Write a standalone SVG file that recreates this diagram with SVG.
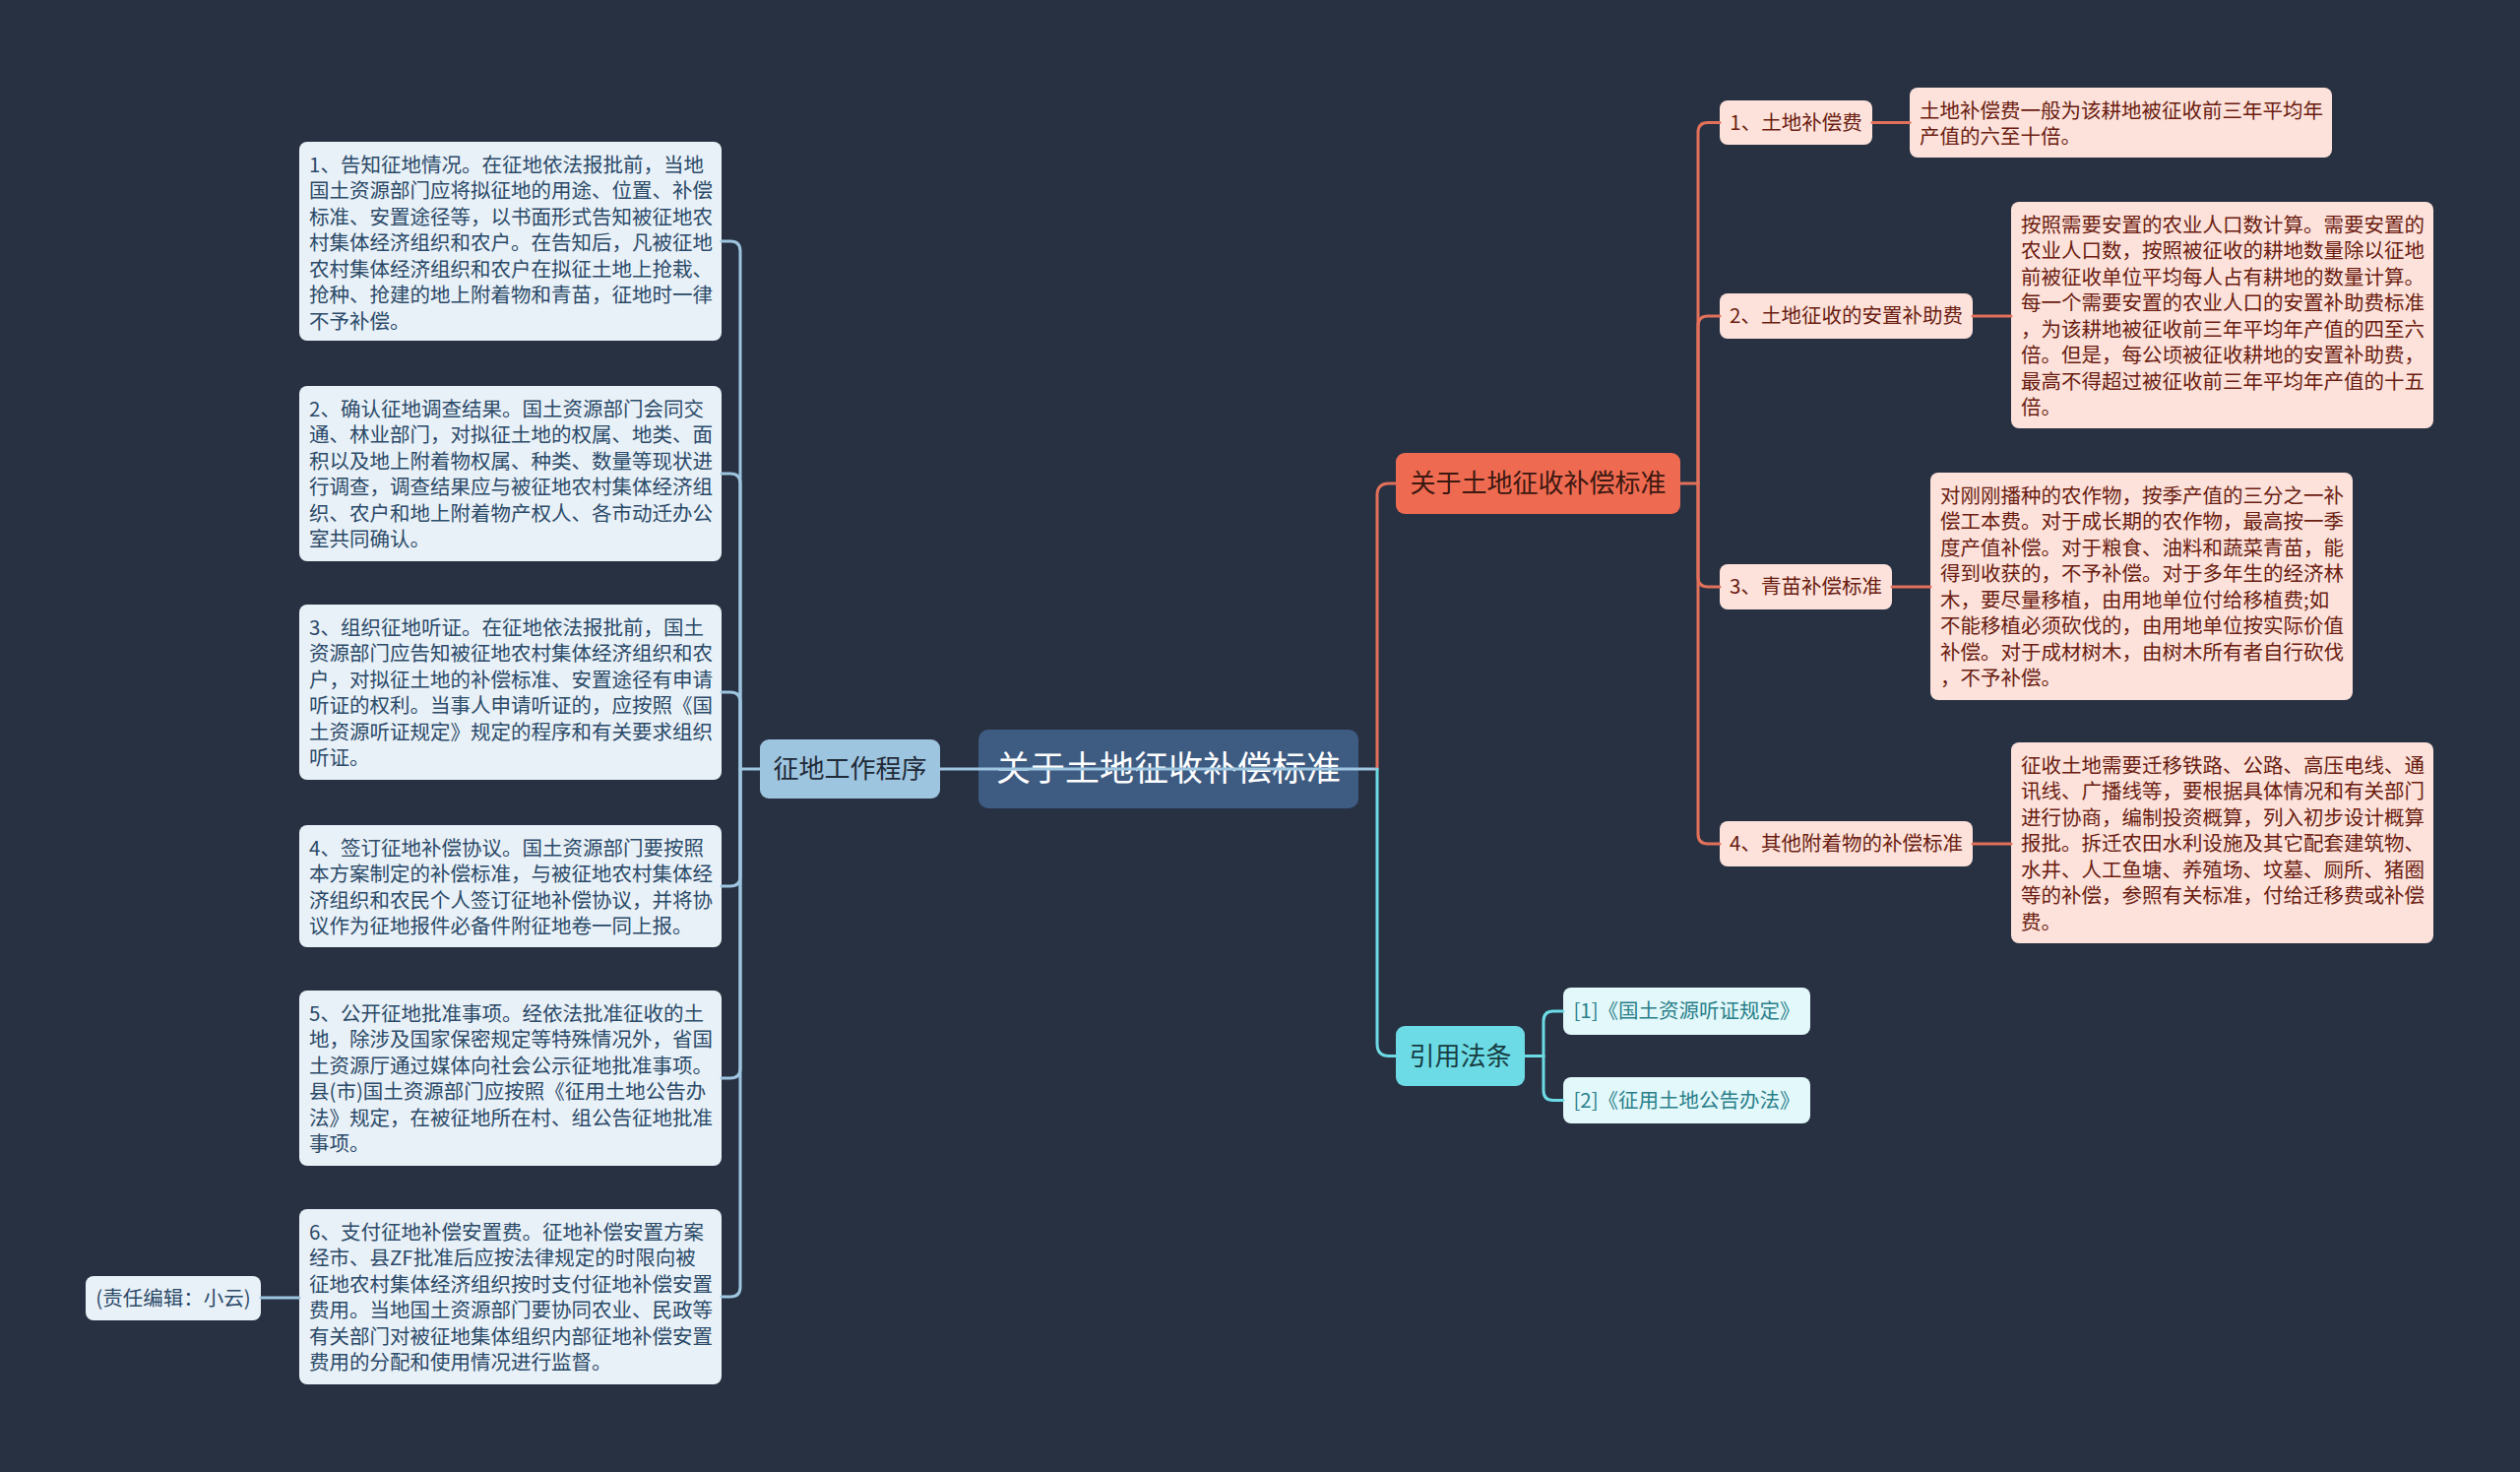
<svg xmlns="http://www.w3.org/2000/svg" width="2560" height="1495" viewBox="0 0 2560 1495">
<style>
text{font-family:"Noto Sans CJK SC","Noto Sans",sans-serif;}
.lb{fill:#e9f1f8;}
.lt{font-size:20.5px;fill:#2b4a68;}
.ob{fill:#fde2db;}
.ot{font-size:20.5px;fill:#6a1c10;}
.cb{fill:#e2f8fa;}
.ct{font-size:20.5px;fill:#2a7f8a;}
.mid{text-anchor:middle;}
.ln{fill:none;stroke-width:3;stroke-linecap:round;stroke-linejoin:round;}
.lbl{stroke:#9ec5df;}
.lor{stroke:#e2705a;}
.lcy{stroke:#6ddbe5;}
</style>
<rect x="0" y="0" width="2560" height="1495" fill="#283142"/>

<g id="root">
<rect x="994" y="741" width="386" height="80" rx="10" fill="#3e5b82"/>
<text x="1187" y="793" class="mid" font-size="35" fill="#ffffff">关于土地征收补偿标准</text>
</g>

<g id="n-procedure">
<rect x="772" y="751" width="183" height="60" rx="9" fill="#9ec5df"/>
<text x="863.5" y="790" class="mid" font-size="26" fill="#1e2a38">征地工作程序</text>
</g>

<g id="n-step1">
<rect x="304" y="144" width="429" height="202" rx="8" class="lb"/>
<text class="lt" x="314" y="174.5">1、告知征地情况。在征地依法报批前，当地<tspan x="314" dy="26.5">国土资源部门应将拟征地的用途、位置、补偿</tspan><tspan x="314" dy="26.5">标准、安置途径等，以书面形式告知被征地农</tspan><tspan x="314" dy="26.5">村集体经济组织和农户。在告知后，凡被征地</tspan><tspan x="314" dy="26.5">农村集体经济组织和农户在拟征土地上抢栽、</tspan><tspan x="314" dy="26.5">抢种、抢建的地上附着物和青苗，征地时一律</tspan><tspan x="314" dy="26.5">不予补偿。</tspan></text>
</g>

<g id="n-step2">
<rect x="304" y="392" width="429" height="178" rx="8" class="lb"/>
<text class="lt" x="314" y="422.5">2、确认征地调查结果。国土资源部门会同交<tspan x="314" dy="26.5">通、林业部门，对拟征土地的权属、地类、面</tspan><tspan x="314" dy="26.5">积以及地上附着物权属、种类、数量等现状进</tspan><tspan x="314" dy="26.5">行调查，调查结果应与被征地农村集体经济组</tspan><tspan x="314" dy="26.5">织、农户和地上附着物产权人、各市动迁办公</tspan><tspan x="314" dy="26.5">室共同确认。</tspan></text>
</g>

<g id="n-step3">
<rect x="304" y="614" width="429" height="178" rx="8" class="lb"/>
<text class="lt" x="314" y="644.5">3、组织征地听证。在征地依法报批前，国土<tspan x="314" dy="26.5">资源部门应告知被征地农村集体经济组织和农</tspan><tspan x="314" dy="26.5">户，对拟征土地的补偿标准、安置途径有申请</tspan><tspan x="314" dy="26.5">听证的权利。当事人申请听证的，应按照《国</tspan><tspan x="314" dy="26.5">土资源听证规定》规定的程序和有关要求组织</tspan><tspan x="314" dy="26.5">听证。</tspan></text>
</g>

<g id="n-step4">
<rect x="304" y="838" width="429" height="124" rx="8" class="lb"/>
<text class="lt" x="314" y="868.5">4、签订征地补偿协议。国土资源部门要按照<tspan x="314" dy="26.5">本方案制定的补偿标准，与被征地农村集体经</tspan><tspan x="314" dy="26.5">济组织和农民个人签订征地补偿协议，并将协</tspan><tspan x="314" dy="26.5">议作为征地报件必备件附征地卷一同上报。</tspan></text>
</g>

<g id="n-step5">
<rect x="304" y="1006" width="429" height="178" rx="8" class="lb"/>
<text class="lt" x="314" y="1036.5">5、公开征地批准事项。经依法批准征收的土<tspan x="314" dy="26.5">地，除涉及国家保密规定等特殊情况外，省国</tspan><tspan x="314" dy="26.5">土资源厅通过媒体向社会公示征地批准事项。</tspan><tspan x="314" dy="26.5">县(市)国土资源部门应按照《征用土地公告办</tspan><tspan x="314" dy="26.5">法》规定，在被征地所在村、组公告征地批准</tspan><tspan x="314" dy="26.5">事项。</tspan></text>
</g>

<g id="n-step6">
<rect x="304" y="1228" width="429" height="178" rx="8" class="lb"/>
<text class="lt" x="314" y="1258.5">6、支付征地补偿安置费。征地补偿安置方案<tspan x="314" dy="26.5">经市、县ZF批准后应按法律规定的时限向被</tspan><tspan x="314" dy="26.5">征地农村集体经济组织按时支付征地补偿安置</tspan><tspan x="314" dy="26.5">费用。当地国土资源部门要协同农业、民政等</tspan><tspan x="314" dy="26.5">有关部门对被征地集体组织内部征地补偿安置</tspan><tspan x="314" dy="26.5">费用的分配和使用情况进行监督。</tspan></text>
</g>

<g id="n-editor">
<rect x="87" y="1296" width="178" height="45" rx="8" class="lb"/>
<text class="lt mid" x="176" y="1325.5">(责任编辑：小云)</text>
</g>

<g id="n-standard">
<rect x="1418" y="460" width="289" height="62" rx="9" fill="#ee6a50"/>
<text x="1562.5" y="500" class="mid" font-size="26" fill="#3b1810">关于土地征收补偿标准</text>
</g>

<g id="n-s1">
<rect x="1747" y="102" width="155" height="45" rx="8" class="ob"/>
<text class="ot mid" x="1824.5" y="131.5">1、土地补偿费</text>
</g>
<g id="n-s1d">
<rect x="1940" y="89" width="429" height="71" rx="8" class="ob"/>
<text class="ot" x="1950" y="119.5">土地补偿费一般为该耕地被征收前三年平均年<tspan x="1950" dy="26.5">产值的六至十倍。</tspan></text>
</g>

<g id="n-s2">
<rect x="1747" y="298" width="257" height="46" rx="8" class="ob"/>
<text class="ot mid" x="1875.5" y="328">2、土地征收的安置补助费</text>
</g>
<g id="n-s2d">
<rect x="2043" y="205" width="429" height="230" rx="8" class="ob"/>
<text class="ot" x="2053" y="235.5">按照需要安置的农业人口数计算。需要安置的<tspan x="2053" dy="26.5">农业人口数，按照被征收的耕地数量除以征地</tspan><tspan x="2053" dy="26.5">前被征收单位平均每人占有耕地的数量计算。</tspan><tspan x="2053" dy="26.5">每一个需要安置的农业人口的安置补助费标准</tspan><tspan x="2053" dy="26.5">，为该耕地被征收前三年平均年产值的四至六</tspan><tspan x="2053" dy="26.5">倍。但是，每公顷被征收耕地的安置补助费，</tspan><tspan x="2053" dy="26.5">最高不得超过被征收前三年平均年产值的十五</tspan><tspan x="2053" dy="26.5">倍。</tspan></text>
</g>

<g id="n-s3">
<rect x="1747" y="573" width="175" height="46" rx="8" class="ob"/>
<text class="ot mid" x="1834.5" y="603">3、青苗补偿标准</text>
</g>
<g id="n-s3d">
<rect x="1961" y="480" width="429" height="231" rx="8" class="ob"/>
<text class="ot" x="1971" y="510.5">对刚刚播种的农作物，按季产值的三分之一补<tspan x="1971" dy="26.5">偿工本费。对于成长期的农作物，最高按一季</tspan><tspan x="1971" dy="26.5">度产值补偿。对于粮食、油料和蔬菜青苗，能</tspan><tspan x="1971" dy="26.5">得到收获的，不予补偿。对于多年生的经济林</tspan><tspan x="1971" dy="26.5">木，要尽量移植，由用地单位付给移植费;如</tspan><tspan x="1971" dy="26.5">不能移植必须砍伐的，由用地单位按实际价值</tspan><tspan x="1971" dy="26.5">补偿。对于成材树木，由树木所有者自行砍伐</tspan><tspan x="1971" dy="26.5">，不予补偿。</tspan></text>
</g>

<g id="n-s4">
<rect x="1747" y="834" width="257" height="46" rx="8" class="ob"/>
<text class="ot mid" x="1875.5" y="864">4、其他附着物的补偿标准</text>
</g>
<g id="n-s4d">
<rect x="2043" y="754" width="429" height="204" rx="8" class="ob"/>
<text class="ot" x="2053" y="784.5">征收土地需要迁移铁路、公路、高压电线、通<tspan x="2053" dy="26.5">讯线、广播线等，要根据具体情况和有关部门</tspan><tspan x="2053" dy="26.5">进行协商，编制投资概算，列入初步设计概算</tspan><tspan x="2053" dy="26.5">报批。拆迁农田水利设施及其它配套建筑物、</tspan><tspan x="2053" dy="26.5">水井、人工鱼塘、养殖场、坟墓、厕所、猪圈</tspan><tspan x="2053" dy="26.5">等的补偿，参照有关标准，付给迁移费或补偿</tspan><tspan x="2053" dy="26.5">费。</tspan></text>
</g>

<g id="n-refs">
<rect x="1418" y="1042" width="131" height="61" rx="9" fill="#6ddbe5"/>
<text x="1483.5" y="1082" class="mid" font-size="26" fill="#173c42">引用法条</text>
</g>
<g id="n-ref1">
<rect x="1588" y="1003" width="251" height="48" rx="8" class="cb"/>
<text class="ct mid" x="1713.5" y="1034">[1]《国土资源听证规定》</text>
</g>
<g id="n-ref2">
<rect x="1588" y="1094" width="251" height="47" rx="8" class="cb"/>
<text class="ct mid" x="1713.5" y="1124.5">[2]《征用土地公告办法》</text>
</g>

<g id="connectors">
<path class="ln lbl" d="M955 781 L1399 781"/>
<path class="ln lor" d="M1399 781 L1399 503 Q1399 491 1411 491 L1418 491"/>
<path class="ln lcy" d="M1399 781 L1399 1060 Q1399 1072.5 1411 1072.5 L1418 1072.5"/>

<path class="ln lbl" d="M772 781 L752 781"/>
<path class="ln lbl" d="M752 781 L752 255 Q752 245 742 245 L733 245"/>
<path class="ln lbl" d="M752 781 L752 491 Q752 481 742 481 L733 481"/>
<path class="ln lbl" d="M752 781 L752 713 Q752 703 742 703 L733 703"/>
<path class="ln lbl" d="M752 781 L752 890 Q752 900 742 900 L733 900"/>
<path class="ln lbl" d="M752 781 L752 1085 Q752 1095 742 1095 L733 1095"/>
<path class="ln lbl" d="M752 781 L752 1307 Q752 1317 742 1317 L733 1317"/>
<path class="ln lbl" d="M265 1318 L304 1318"/>

<path class="ln lor" d="M1707 491 L1725 491"/>
<path class="ln lor" d="M1725 491 L1725 134.5 Q1725 124.5 1735 124.5 L1747 124.5"/>
<path class="ln lor" d="M1725 491 L1725 331 Q1725 321 1735 321 L1747 321"/>
<path class="ln lor" d="M1725 491 L1725 586 Q1725 596 1735 596 L1747 596"/>
<path class="ln lor" d="M1725 491 L1725 847 Q1725 857 1735 857 L1747 857"/>
<path class="ln lor" d="M1902 124.5 L1940 124.5"/>
<path class="ln lor" d="M2004 321 L2043 321"/>
<path class="ln lor" d="M1922 596 L1961 596"/>
<path class="ln lor" d="M2004 857 L2043 857"/>

<path class="ln lcy" d="M1549 1072.5 L1568 1072.5"/>
<path class="ln lcy" d="M1568 1072.5 L1568 1037 Q1568 1027 1578 1027 L1588 1027"/>
<path class="ln lcy" d="M1568 1072.5 L1568 1107.5 Q1568 1117.5 1578 1117.5 L1588 1117.5"/>
</g>
</svg>
